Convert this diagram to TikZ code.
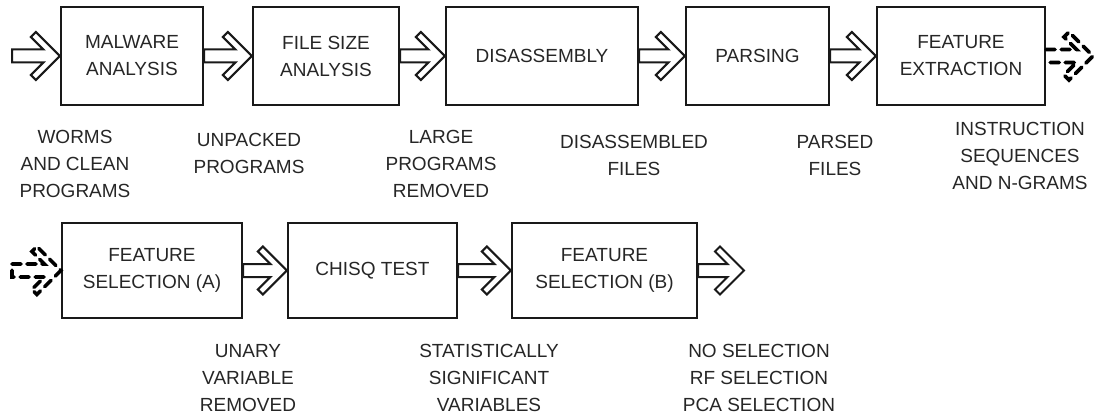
\documentclass[tikz,border=0pt]{standalone}
\usepackage{fontspec}
\setmainfont{Liberation Sans}
\usetikzlibrary{calc}

% hollow block arrow from a tail point to a tip point (horizontal)
\newcommand{\hollowarrow}[3][]{%
  \draw[hollow,#1] let \p1=(#2), \p2=(#3) in
    (\x1,\y2+6.5pt) -- (\x2-16.5pt,\y2+6.5pt) -- (\x2-29pt,\y2+19pt) --
    (\x2-24pt,\y2+24pt) -- (\x2,\y2) -- (\x2-24pt,\y2-24pt) --
    (\x2-29pt,\y2-19pt) -- (\x2-16.5pt,\y2-6.5pt) -- (\x1,\y2-6.5pt) -- cycle;}

\begin{document}
\begin{tikzpicture}[x=1pt,y=-1pt,
  stage/.style={draw=black!90, line width=2.2pt, align=center, inner sep=0pt,
    font=\fontsize{19}{27}\selectfont, text=black!85},
  row1/.style={minimum height=98pt},
  row2/.style={minimum height=95pt},
  note/.style={align=center, inner sep=0pt, font=\fontsize{19}{27}\selectfont, text=black!85},
  hollow/.style={draw=black!90, line width=2pt, line join=miter, fill=white},
  offpage/.style={line width=3.6pt, line cap=round, dash pattern=on 9pt off 6pt}]
\useasboundingbox (0,0) rectangle (1098,417);

% first row of stages
\node[stage,row1,minimum width=142pt] (b1) at (132,56) {MALWARE\\ANALYSIS};
\node[stage,row1,minimum width=146pt] (b2) at (326,56) {FILE SIZE\\ANALYSIS};
\node[stage,row1,minimum width=192pt] (b3) at (542,56) {DISASSEMBLY};
\node[stage,row1,minimum width=143pt] (b4) at (757.5,56) {PARSING};
\node[stage,row1,minimum width=168pt] (b5) at (961,56) {FEATURE\\EXTRACTION};

% second row of stages
\node[stage,row2,minimum width=180pt] (b6) at (152,270.5) {FEATURE\\SELECTION (A)};
\node[stage,row2,minimum width=169pt] (b7) at (372.5,270.5) {CHISQ TEST};
\node[stage,row2,minimum width=185pt] (b8) at (604.5,270.5) {FEATURE\\SELECTION (B)};

% free ends of the connectors
\coordinate (in1) at (12,56);
\coordinate (out1) at (1093,56);
\coordinate (in2) at (12,270.5);
\coordinate (out2) at (744,270.5);

% connectors
\hollowarrow{in1}{b1.west}
\hollowarrow{b1.east}{b2.west}
\hollowarrow{b2.east}{b3.west}
\hollowarrow{b3.east}{b4.west}
\hollowarrow{b4.east}{b5.west}
\hollowarrow[draw=none,fill=none]{b5.east}{out1}
\draw[offpage] let \p1=(b5.east), \p2=(out1) in
    (\x1,\y2+6.5pt) -- (\x2-16.5pt,\y2+6.5pt) -- (\x2-29pt,\y2+19pt) --
    (\x2-24pt,\y2+24pt) -- (\x2,\y2) -- (\x2-24pt,\y2-24pt) --
    (\x2-29pt,\y2-19pt) -- (\x2-16.5pt,\y2-6.5pt) -- (\x1,\y2-6.5pt);
\draw[offpage] let \p1=(in2), \p2=(b6.west) in
    (\x1,\y2+6.5pt) -- (\x2-16.5pt,\y2+6.5pt) -- (\x2-29pt,\y2+19pt) --
    (\x2-24pt,\y2+24pt) -- (\x2,\y2) -- (\x2-24pt,\y2-24pt) --
    (\x2-29pt,\y2-19pt) -- (\x2-16.5pt,\y2-6.5pt) -- (\x1,\y2-6.5pt) -- cycle;
\hollowarrow{b6.east}{b7.west}
\hollowarrow{b7.east}{b8.west}
\hollowarrow{b8.east}{out2}

% data produced between the stages
\node[note] (l1) at (75,164) {WORMS\\AND CLEAN\\PROGRAMS};
\node[note] (l2) at (249,153.5) {UNPACKED\\PROGRAMS};
\node[note] (l3) at (441,164) {LARGE\\PROGRAMS\\REMOVED};
\node[note] (l4) at (634,155.5) {DISASSEMBLED\\FILES};
\node[note] (l5) at (835,155.5) {PARSED\\FILES};
\node[note] (l6) at (1020,156) {INSTRUCTION\\SEQUENCES\\AND N-GRAMS};
\node[note] (l7) at (248,378) {UNARY\\VARIABLE\\REMOVED};
\node[note] (l8) at (489,378) {STATISTICALLY\\SIGNIFICANT\\VARIABLES};
\node[note] (l9) at (759,378) {NO SELECTION\\RF SELECTION\\PCA SELECTION};
\end{tikzpicture}
\end{document}
